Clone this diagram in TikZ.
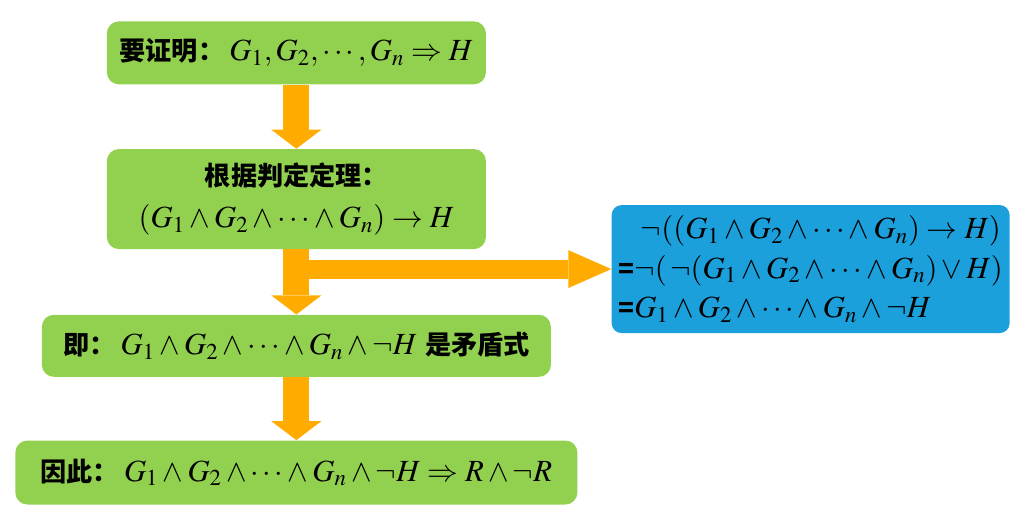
\documentclass[tikz,border=0pt]{standalone}
\usepackage{mathptmx}
\usepackage{fontspec}
\setmainfont{Liberation Serif}
\newfontfamily\cjk{Noto Sans CJK SC}[Scale=0.85]
\usepackage{xcolor}
\usepackage{tikz}
\usetikzlibrary{arrows.meta, positioning, calc}

\definecolor{boxgreen}{RGB}{146,208,80}
\definecolor{boxblue}{RGB}{28,160,220}
\definecolor{flowyellow}{RGB}{255,171,0}
\newcommand{\zh}[1]{{\cjk\bfseries #1}}

\begin{document}
\begin{tikzpicture}[
                node distance=1.28cm,
                stage/.style={rectangle, rounded corners=0.24cm, fill=boxgreen, inner sep=0pt,
                    align=center, font=\fontsize{17.5}{24}\selectfont},
                result/.style={rectangle, rounded corners=0.2cm, fill=boxblue, inner sep=0pt,
                    align=left, font=\fontsize{17.5}{22.5}\selectfont},
                flow/.style={draw=flowyellow, line width=0.52cm,
                    -{Triangle[length=0.38cm, width=1cm, line width=0pt, color=flowyellow]}},
                side/.style={draw=flowyellow, line width=0.38cm,
                    -{Triangle[length=0.86cm, width=0.76cm, line width=0pt, color=flowyellow]}}
            ]
                % Nodes
                \node[stage, minimum width=7.58cm, minimum height=1.26cm] (goal)
                    {\zh{要证明：}\,$G_1, G_2, \cdots, G_n \Rightarrow H$};
                \node[stage, minimum width=7.58cm, minimum height=2cm, below=of goal] (thm)
                    {\zh{根据判定定理：}\\ $(G_1 \wedge G_2 \wedge \cdots \wedge G_n) \rightarrow H$};
                \node[stage, minimum width=10.18cm, minimum height=1.24cm, below=1.3cm of thm] (contra)
                    {\zh{即：}\,$G_1 \wedge G_2 \wedge \cdots \wedge G_n \wedge \neg H$ \zh{是矛盾式}};
                \node[stage, minimum width=11.24cm, minimum height=1.28cm, below=1.26cm of contra] (concl)
                    {\zh{因此：}\,$G_1 \wedge G_2 \wedge \cdots \wedge G_n \wedge \neg H \Rightarrow R \wedge \neg R$};
                \node[result, minimum width=7.96cm, minimum height=2.56cm, right=2.5cm of thm, yshift=-1.4cm] (neg)
                    {\hspace{0.45cm}$\neg((G_1 \wedge G_2 \wedge \cdots \wedge G_n) \rightarrow H)$\\
                     \zh{=}$\neg(\,\neg(G_1 \wedge G_2 \wedge \cdots \wedge G_n) \vee H)$\\
                     \zh{=}$G_1 \wedge G_2 \wedge \cdots \wedge G_n \wedge \neg H$};
                \coordinate (split) at (thm.south |- neg.west);

                % Edges
                \draw[flow] (goal) -- (thm);
                \draw[flow] (thm) -- (contra);
                \draw[flow] (contra) -- (concl);
                \draw[side] (split) -- (neg.west);

                \pgfresetboundingbox
                \path[use as bounding box] ($(concl.south west)+(-0.3,-0.48)$)
                    rectangle ($(goal.north -| neg.east)+(0.28,0.42)$);
            \end{tikzpicture}
\end{document}
